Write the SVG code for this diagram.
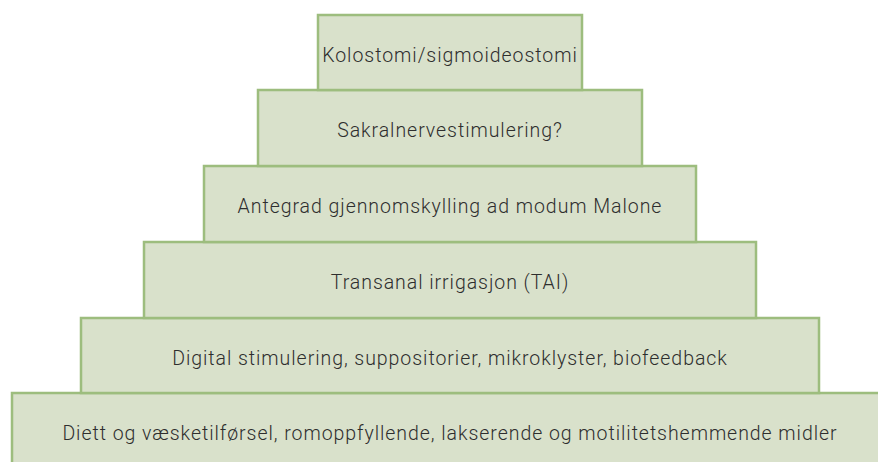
<svg xmlns="http://www.w3.org/2000/svg" width="878" height="462" viewBox="0 0 878 462">
<style>
.box{fill:#d9e1cb;stroke:#9dbd7e;stroke-width:2.5}
.lbl{font-family:Roboto,"Liberation Sans",sans-serif;font-size:19.5px;font-weight:300;letter-spacing:0.95px;fill:#2e2e2e;text-anchor:middle}
</style>
<rect width="878" height="462" fill="#fff"/>
<g id="n6"><rect class="box" x="12" y="393" width="880" height="80"/><text class="lbl" x="450" y="440">Diett og væsketilførsel, romoppfyllende, lakserende og motilitetshemmende midler</text></g>
<g id="n5"><rect class="box" x="81" y="318" width="738" height="75"/><text class="lbl" x="450" y="365">Digital stimulering, suppositorier, mikroklyster, biofeedback</text></g>
<g id="n4"><rect class="box" x="144" y="242" width="612" height="76"/><text class="lbl" x="450" y="289">Transanal irrigasjon (TAI)</text></g>
<g id="n3"><rect class="box" x="204" y="166" width="492" height="76"/><text class="lbl" x="450" y="213">Antegrad gjennomskylling ad modum Malone</text></g>
<g id="n2"><rect class="box" x="258" y="90" width="384" height="76"/><text class="lbl" x="450" y="137">Sakralnervestimulering?</text></g>
<g id="n1"><rect class="box" x="318" y="15" width="264" height="75"/><text class="lbl" x="450" y="61.5">Kolostomi/sigmoideostomi</text></g>
<g id="connectors"/>
</svg>
